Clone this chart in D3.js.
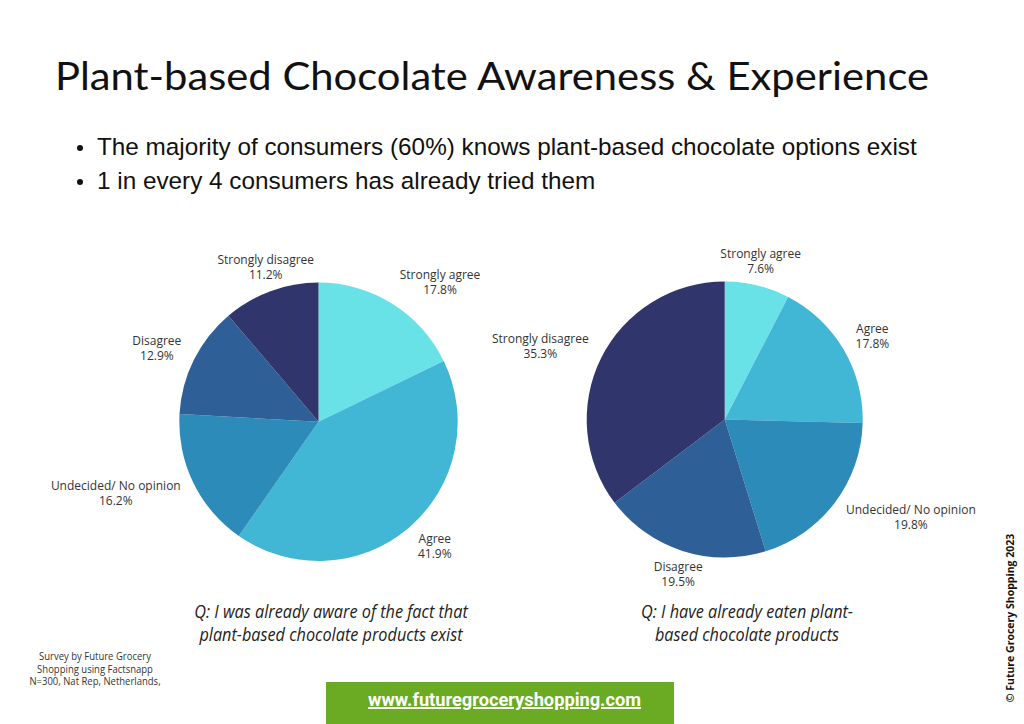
<!DOCTYPE html>
<html>
<head>
<meta charset="utf-8">
<script src="https://cdn.jsdelivr.net/npm/d3@7"></script>
<style>
  html, body { margin: 0; padding: 0; background: #ffffff; }
  svg { display: block; }
</style>
</head>
<body>
<svg id="chart" width="1024" height="724"></svg>
<script>
// ---- data ----
const categories = ["Strongly agree", "Agree", "Undecided/ No opinion", "Disagree", "Strongly disagree"];
const awareValues = [17.8, 41.9, 16.2, 12.9, 11.2];
const eatenValues = [7.6, 17.8, 19.8, 19.5, 35.3];
const sliceColors = ["#69e2e7", "#41b6d5", "#2c8bb9", "#2e5f96", "#30356b"];

const titleText = "Plant-based Chocolate Awareness & Experience";
const bullets = [
  "The majority of consumers (60%) knows plant-based chocolate options exist",
  "1 in every 4 consumers has already tried them"
];
const awareQuestion = ["Q: I was already aware of the fact that", "plant-based chocolate products exist"];
const eatenQuestion = ["Q: I have already eaten plant-", "based chocolate products"];
const sourceLines = ["Survey by Future Grocery", "Shopping using Factsnapp", "N=300, Nat Rep, Netherlands,"];
const websiteText = "www.futuregroceryshopping.com";
const copyrightText = "\u00A9 Future Grocery Shopping 2023";

// ---- drawing ----
const svg = d3.select("#chart");
const color = d3.scaleOrdinal().domain(categories).range(sliceColors);
const fmt = d3.format(".1f");

// Title
svg.append("text")
  .attr("x", 55).attr("y", 90)
  .attr("font-family", "Lato, 'Open Sans', sans-serif")
  .attr("font-weight", 400)
  .attr("font-size", 38)
  .attr("fill", "#111")
  .attr("textLength", 874)
  .attr("lengthAdjust", "spacingAndGlyphs")
  .text(titleText);

// Bullets
const bulletG = svg.append("g");
bullets.forEach((b, i) => {
  const y = 155 + i * 34;
  bulletG.append("circle").attr("cx", 80).attr("cy", y - 7).attr("r", 3).attr("fill", "#111");
  bulletG.append("text")
    .attr("x", 97).attr("y", y)
    .attr("font-family", "'Liberation Sans', Arial, sans-serif")
    .attr("font-size", 24.3)
    .attr("fill", "#111")
    .text(b);
});

function drawPie(values, cx, cy, r) {
  const data = categories.map((c, i) => ({ cat: c, value: values[i] }));
  const pie = d3.pie().sort(null).value(d => d.value);
  const arc = d3.arc().innerRadius(0).outerRadius(r);
  const arcs = pie(data);
  const g = svg.append("g").attr("transform", `translate(${cx},${cy})`);
  g.selectAll("path").data(arcs).join("path")
    .attr("d", arc)
    .attr("fill", d => color(d.data.cat));

  const gap = 14, blockH = 22;
  arcs.forEach(d => {
    const a = (d.startAngle + d.endAngle) / 2;
    const dx = Math.sin(a), dy = -Math.cos(a);
    const px = dx * (r + gap), py = dy * (r + gap);
    const bc = py + dy * blockH / 2;
    const t = g.append("text")
      .attr("text-anchor", "middle")
      .attr("font-family", "'Open Sans', 'Noto Sans', sans-serif")
      .attr("font-size", 12)
      .attr("fill", "#333");
    const l1 = t.append("tspan").attr("y", bc - 7.5 + 4).text(d.data.cat);
    const l2 = t.append("tspan").attr("y", bc + 7.5 + 4).text(fmt(d.data.value) + "%");
    const w = Math.max(l1.node().getComputedTextLength(), l2.node().getComputedTextLength());
    let x = px;
    if (Math.abs(dx) >= 0.35) x = px + (dx > 0 ? w / 2 : -w / 2);
    l1.attr("x", x);
    l2.attr("x", x);
  });
}

drawPie(awareValues, 318.5, 421.8, 139.2);
drawPie(eatenValues, 724.7, 419.5, 138);

// Questions
function drawQuestion(lines, cx) {
  const g = svg.append("g").attr("transform", `translate(${cx},0) scale(0.93,1)`);
  lines.forEach((l, i) => {
    g.append("text")
      .attr("x", 0).attr("y", 618 + i * 23)
      .attr("text-anchor", "middle")
      .attr("font-family", "'Open Sans', sans-serif")
      .attr("font-style", "italic")
      .attr("font-size", 17.5)
      .attr("fill", "#222")
      .text(l);
  });
}
drawQuestion(awareQuestion, 331);
drawQuestion(eatenQuestion, 747);

// Source note
const srcG = svg.append("g").attr("transform", "translate(95,0) scale(0.95,1)");
sourceLines.forEach((l, i) => {
  srcG.append("text")
    .attr("x", 0).attr("y", 660 + i * 12.7)
    .attr("text-anchor", "middle")
    .attr("font-family", "'Open Sans', sans-serif")
    .attr("font-size", 10)
    .attr("fill", "#333")
    .text(l);
});

// Website banner
svg.append("rect")
  .attr("x", 326).attr("y", 682).attr("width", 348).attr("height", 42)
  .attr("fill", "#6aab23");
const webG = svg.append("g").attr("transform", "translate(504.5,0) scale(0.96,1)");
webG.append("text")
  .attr("x", 0).attr("y", 706)
  .attr("text-anchor", "middle")
  .attr("font-family", "Roboto, sans-serif")
  .attr("font-weight", 700)
  .attr("font-size", 19)
  .attr("fill", "#ffffff")
  .attr("text-decoration", "underline")
  .text(websiteText);

// Copyright (vertical)
svg.append("text")
  .attr("transform", "translate(1014,618) rotate(-90)")
  .attr("text-anchor", "middle")
  .attr("font-family", "'Open Sans', sans-serif")
  .attr("font-weight", 700)
  .attr("font-size", 10.5)
  .attr("fill", "#111")
  .text(copyrightText);
</script>
</body>
</html>
